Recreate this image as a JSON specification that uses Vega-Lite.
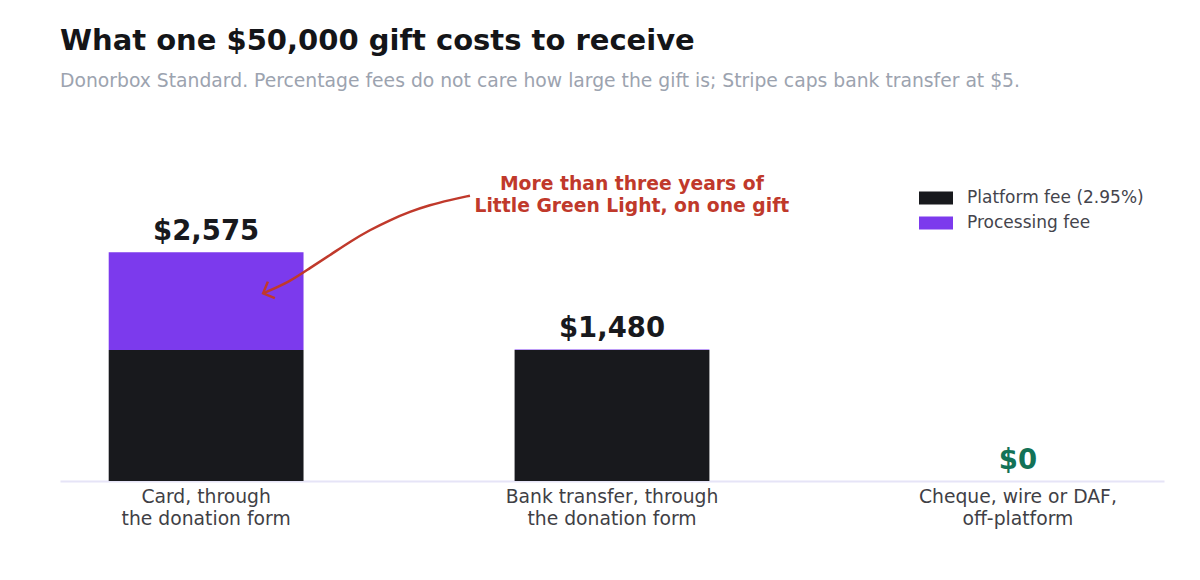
{
  "$schema": "https://vega.github.io/schema/vega-lite/v6.json",
  "width": 1104,
  "height": 351,
  "autosize": "none",
  "padding": {"left": 60, "top": 130, "right": 36, "bottom": 99},
  "config": {
    "font": "DejaVu Sans",
    "view": {"stroke": null}
  },
  "title": {
    "text": "What one $50,000 gift costs to receive",
    "subtitle": "Donorbox Standard. Percentage fees do not care how large the gift is; Stripe caps bank transfer at $5.",
    "anchor": "start",
    "frame": "group",
    "fontSize": 29,
    "fontWeight": "bold",
    "color": "#141518",
    "subtitleFontSize": 18.75,
    "subtitleColor": "#9ca3af",
    "subtitlePadding": 16,
    "offset": 39
  },
  "datasets": {
    "fees": [
      {"method": "Card, through\nthe donation form", "fee": "Platform fee (2.95%)", "amount": 1475},
      {"method": "Card, through\nthe donation form", "fee": "Processing fee", "amount": 1100},
      {"method": "Bank transfer, through\nthe donation form", "fee": "Platform fee (2.95%)", "amount": 1475},
      {"method": "Bank transfer, through\nthe donation form", "fee": "Processing fee", "amount": 5},
      {"method": "Cheque, wire or DAF,\noff-platform", "fee": "Platform fee (2.95%)", "amount": 0},
      {"method": "Cheque, wire or DAF,\noff-platform", "fee": "Processing fee", "amount": 0}
    ],
    "totals": [
      {"method": "Card, through\nthe donation form", "total": 2575},
      {"method": "Bank transfer, through\nthe donation form", "total": 1480},
      {"method": "Cheque, wire or DAF,\noff-platform", "total": 0}
    ],
    "arrow": [
      {"step": 1, "pos": 1.114, "amount": 3211},
      {"step": 2, "pos": 1.06, "amount": 3162},
      {"step": 3, "pos": 1.005, "amount": 3106},
      {"step": 4, "pos": 0.951, "amount": 3031},
      {"step": 5, "pos": 0.897, "amount": 2937},
      {"step": 6, "pos": 0.842, "amount": 2825},
      {"step": 7, "pos": 0.788, "amount": 2693},
      {"step": 8, "pos": 0.734, "amount": 2543},
      {"step": 9, "pos": 0.679, "amount": 2397},
      {"step": 10, "pos": 0.625, "amount": 2243},
      {"step": 11, "pos": 0.552, "amount": 2112}
    ],
    "note": [
      {"label": "More than three years of\nLittle Green Light, on one gift", "pos": 1.554, "amount": 3340}
    ]
  },
  "layer": [
    {
      "layer": [
        {
          "data": {"name": "fees"},
          "mark": {"type": "bar"},
          "encoding": {
            "x": {
              "field": "method",
              "type": "nominal",
              "sort": null,
              "title": null,
              "scale": {"paddingInner": 0.52, "paddingOuter": 0.12},
              "axis": {
                "labelAngle": 0,
                "labelFontSize": 18.75,
                "labelColor": "#3f3f46",
                "labelPadding": 6,
                "labelLineHeight": 22,
                "labelBaseline": "top",
                "labelLimit": 0,
                "labelExpr": "split(datum.label, '\\n')",
                "ticks": false,
                "grid": false,
                "domainColor": "#e6e4f7",
                "domainWidth": 2
              }
            },
            "y": {
              "field": "amount",
              "type": "quantitative",
              "stack": "zero",
              "scale": {"domain": [0, 3950]},
              "axis": null
            },
            "color": {
              "field": "fee",
              "type": "nominal",
              "scale": {
                "domain": ["Platform fee (2.95%)", "Processing fee"],
                "range": ["#18191d", "#7c3aed"]
              },
              "legend": {
                "orient": "none",
                "legendX": 859,
                "legendY": 51,
                "title": null,
                "symbolType": "M-1,-0.38L1,-0.38L1,0.38L-1,0.38Z",
                "symbolSize": 1156,
                "symbolStrokeWidth": 0,
                "labelFontSize": 17,
                "labelColor": "#44444c",
                "labelOffset": 14,
                "labelLimit": 0,
                "rowPadding": -5
              }
            },
            "order": {"field": "fee", "sort": "ascending"}
          }
        },
        {
          "data": {"name": "totals"},
          "mark": {
            "type": "text",
            "baseline": "alphabetic",
            "align": "center",
            "dy": -12,
            "fontSize": 27.5,
            "fontWeight": "bold"
          },
          "encoding": {
            "x": {"field": "method", "type": "nominal", "sort": null},
            "y": {"field": "total", "type": "quantitative", "scale": {"domain": [0, 3950]}},
            "text": {"field": "total", "type": "quantitative", "format": "$,.0f"},
            "color": {
              "condition": {"test": "datum.total === 0", "value": "#137257"},
              "value": "#18191d"
            }
          }
        }
      ]
    },
    {
      "layer": [
        {
          "data": {"name": "arrow"},
          "mark": {"type": "line", "interpolate": "basis", "color": "#c0392b", "strokeWidth": 2.5},
          "encoding": {
            "x": {"field": "pos", "type": "quantitative", "scale": {"domain": [0, 3]}, "axis": null},
            "y": {"field": "amount", "type": "quantitative", "scale": {"domain": [0, 3950]}},
            "order": {"field": "step", "type": "quantitative"}
          }
        },
        {
          "data": {"name": "arrow"},
          "transform": [{"filter": "datum.step === 11"}],
          "mark": {
            "type": "point",
            "shape": "M-1,1L0,0L1,1",
            "angle": 247,
            "size": 320,
            "filled": false,
            "stroke": "#c0392b",
            "strokeWidth": 2.5,
            "opacity": 1
          },
          "encoding": {
            "x": {"field": "pos", "type": "quantitative", "scale": {"domain": [0, 3]}, "axis": null},
            "y": {"field": "amount", "type": "quantitative", "scale": {"domain": [0, 3950]}}
          }
        },
        {
          "data": {"name": "note"},
          "mark": {
            "type": "text",
            "align": "center",
            "baseline": "middle",
            "lineBreak": "\n",
            "lineHeight": 22,
            "fontSize": 18.75,
            "fontWeight": "bold",
            "color": "#c0392b"
          },
          "encoding": {
            "x": {"field": "pos", "type": "quantitative", "scale": {"domain": [0, 3]}, "axis": null},
            "y": {"field": "amount", "type": "quantitative", "scale": {"domain": [0, 3950]}},
            "text": {"field": "label"}
          }
        }
      ]
    }
  ],
  "resolve": {"scale": {"x": "independent"}}
}
